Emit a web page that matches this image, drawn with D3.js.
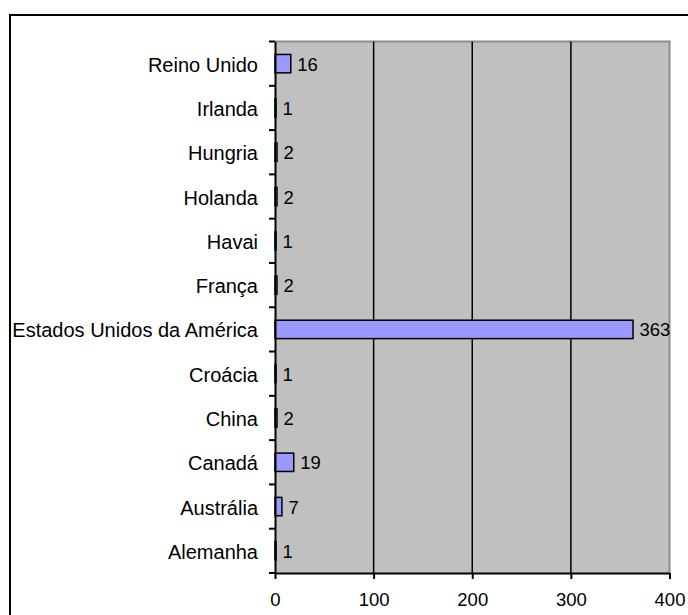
<!DOCTYPE html>
<html>
<head>
<meta charset="utf-8">
<script src="https://cdn.jsdelivr.net/npm/d3@7"></script>
<style>
  html, body { margin: 0; padding: 0; background: #ffffff; }
  svg { display: block; }
  text { font-family: "Liberation Sans", Arial, sans-serif; fill: #000; }
</style>
</head>
<body>
<svg id="chart" width="688" height="615"></svg>
<script>
// Countries (drawn top to bottom) and their counts
const countries = ["Reino Unido", "Irlanda", "Hungria", "Holanda", "Havai", "França",
  "Estados Unidos da América", "Croácia", "China", "Canadá", "Austrália", "Alemanha"];
const counts = [16, 1, 2, 2, 1, 2, 363, 1, 2, 19, 7, 1];
const xTicks = [0, 100, 200, 300, 400];

const svg = d3.select("#chart");
const W = 688, H = 615;
const plot = { left: 275, top: 41.5, right: 669.5, bottom: 573 };

// Outer frame (runs past the right and bottom edges of the page)
svg.append("rect")
  .attr("x", 10).attr("y", 15)
  .attr("width", W + 20).attr("height", H + 20)
  .attr("fill", "none").attr("stroke", "#000").attr("stroke-width", 2);

const x = d3.scaleLinear().domain([0, 400]).range([plot.left, plot.right]);
const y = d3.scaleBand().domain(countries).range([plot.top, plot.bottom]).paddingInner(0.585).paddingOuter(0.2925);
const yBand = d3.scaleBand().domain(countries).range([plot.top, plot.bottom]);

// Plot background
svg.append("rect")
  .attr("x", plot.left).attr("y", plot.top)
  .attr("width", plot.right - plot.left).attr("height", plot.bottom - plot.top)
  .attr("fill", "#c0c0c0");

// Plot frame, top and right sides
svg.append("path")
  .attr("d", `M${plot.left},${plot.top}H${plot.right}V${plot.bottom}`)
  .attr("fill", "none").attr("stroke", "#8c8c8c").attr("stroke-width", 2);

// Vertical gridlines
svg.append("g").selectAll("line")
  .data(xTicks.filter(d => d > 0 && d < 400))
  .join("line")
  .attr("x1", d => x(d)).attr("x2", d => x(d))
  .attr("y1", plot.top).attr("y2", plot.bottom)
  .attr("stroke", "#000").attr("stroke-width", 1.5);

// Bars
svg.append("g").selectAll("rect")
  .data(countries.map((c, i) => ({ c, v: counts[i] })))
  .join("rect")
  .attr("x", x(0))
  .attr("y", d => y(d.c))
  .attr("width", d => x(d.v) - x(0))
  .attr("height", y.bandwidth())
  .attr("fill", "#9999ff")
  .attr("stroke", "#000").attr("stroke-width", 1.5);

// Value labels
svg.append("g").selectAll("text")
  .data(countries.map((c, i) => ({ c, v: counts[i] })))
  .join("text")
  .attr("x", d => x(d.v) + 6.5)
  .attr("y", d => yBand(d.c) + yBand.bandwidth() / 2 + 7)
  .attr("font-size", 18.5)
  .text(d => d.v);

// Category axis
const yAxis = d3.axisLeft(yBand).tickSize(0).tickPadding(17);
const gy = svg.append("g").attr("transform", `translate(${plot.left},0)`).call(yAxis);
gy.select(".domain").attr("stroke", "#000").attr("stroke-width", 2);
gy.selectAll("text").attr("font-size", 20).attr("dy", "0.4em")
  .attr("font-family", "'Liberation Sans', Arial, sans-serif");
// tick marks on band boundaries
gy.append("g").selectAll("line")
  .data(d3.range(countries.length + 1))
  .join("line")
  .attr("x1", -6).attr("x2", 0)
  .attr("y1", i => plot.top + i * yBand.step())
  .attr("y2", i => plot.top + i * yBand.step())
  .attr("stroke", "#000").attr("stroke-width", 2);

// Value axis
const xAxis = d3.axisBottom(x).tickValues(xTicks).tickSize(6).tickPadding(14).tickSizeOuter(0);
const gx = svg.append("g").attr("transform", `translate(0,${plot.bottom})`).call(xAxis);
gx.select(".domain").attr("stroke", "#000").attr("stroke-width", 2);
gx.selectAll(".tick line").attr("stroke", "#000").attr("stroke-width", 2);
gx.selectAll("text").attr("font-size", 18.5)
  .attr("font-family", "'Liberation Sans', Arial, sans-serif");
</script>
</body>
</html>
